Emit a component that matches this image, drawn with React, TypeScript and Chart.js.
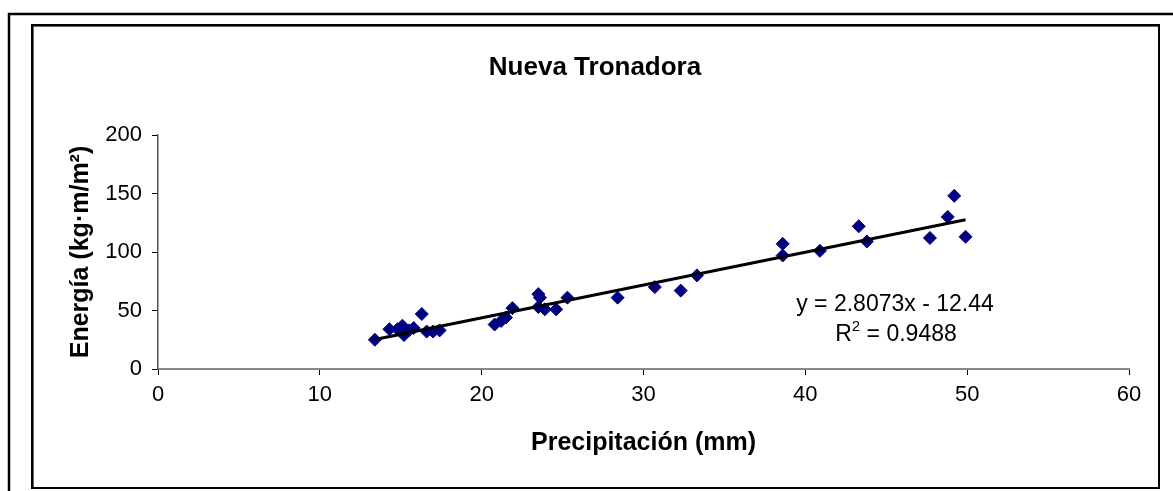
import { useEffect, useRef } from "react";
import { Chart, registerables } from "chart.js";

Chart.register(...registerables);

const chartTitle = "Nueva Tronadora";
const xTitle = "Precipitación (mm)";
const yTitle = "Energía (kg·m/m²)";

const precipitacion = [
  13.4, 14.3, 14.8, 15.1, 15.2, 15.5, 15.8, 16.3, 16.6, 17.0, 17.4,
  20.8, 21.2, 21.5, 21.9, 23.5, 23.6, 23.5, 23.9, 24.6, 25.3, 28.4,
  30.7, 32.3, 33.3, 38.6, 38.6, 40.9, 43.3, 43.8, 47.7, 48.8, 49.2, 49.9,
];
const energia = [
  25, 34, 34, 37, 29, 33, 35, 47, 32, 32, 33,
  38, 41, 44, 52, 64, 61, 53, 51, 51, 61, 61,
  70, 67, 80, 107, 97, 101, 122, 109, 112, 130, 148, 113,
];

const slope = 2.8073;
const intercept = -12.44;
const r2Text = "0.9488";

const xMin = 0, xMax = 60, xStep = 10;
const yMin = 0, yMax = 200, yStep = 50;

const FONT = "'Liberation Sans', Arial, sans-serif";

export default function App() {
  const ref = useRef<HTMLCanvasElement | null>(null);

  useEffect(() => {
    if (!ref.current) return;
    const x0 = Math.min(...precipitacion);
    const x1 = Math.max(...precipitacion);
    const trend = [
      { x: x0, y: slope * x0 + intercept },
      { x: x1, y: slope * x1 + intercept },
    ];

    const decor = {
      id: "decor",
      beforeDraw(chart: any) {
        const ctx = chart.ctx;
        ctx.save();
        ctx.fillStyle = "#fff";
        ctx.fillRect(0, 0, chart.width, chart.height);
        ctx.strokeStyle = "#000";
        ctx.lineWidth = 2.5;
        ctx.beginPath();
        ctx.moveTo(9, 500);
        ctx.lineTo(9, 14);
        ctx.lineTo(1180, 14);
        ctx.stroke();
        ctx.strokeStyle = "#666";
        ctx.lineWidth = 1;
        ctx.strokeRect(33.5, 26.5, 1126, 462);
        ctx.strokeStyle = "#000";
        ctx.lineWidth = 2;
        ctx.strokeRect(32, 25, 1127, 463);
        ctx.restore();
      },
      afterDraw(chart: any) {
        const ctx = chart.ctx;
        ctx.save();
        ctx.fillStyle = "#000";
        ctx.textAlign = "center";
        ctx.textBaseline = "middle";
        ctx.font = `bold 26px ${FONT}`;
        ctx.fillText(chartTitle, 595, 68);

        ctx.font = `23px ${FONT}`;
        const eq = `y = ${slope}x - ${Math.abs(intercept)}`;
        ctx.fillText(eq, 895, 305);

        ctx.textAlign = "left";
        const big = `23px ${FONT}`;
        const small = `15px ${FONT}`;
        ctx.font = big;
        const wR = ctx.measureText("R").width;
        const wRest = ctx.measureText(` = ${r2Text}`).width;
        ctx.font = small;
        const w2 = ctx.measureText("2").width;
        let sx = 896 - (wR + w2 + wRest) / 2;
        ctx.font = big;
        ctx.fillText("R", sx, 335);
        sx += wR;
        ctx.font = small;
        ctx.fillText("2", sx, 327);
        sx += w2;
        ctx.font = big;
        ctx.fillText(` = ${r2Text}`, sx, 335);
        ctx.restore();
      },
    };

    const chart = new Chart(ref.current, {
      type: "scatter",
      data: {
        datasets: [
          {
            label: "Energía",
            data: precipitacion.map((p, i) => ({ x: p, y: energia[i] })),
            pointStyle: "rectRot",
            pointRadius: 6.5,
            pointBackgroundColor: "#000080",
            pointBorderColor: "#000080",
            pointBorderWidth: 1,
            showLine: false,
            order: 2,
          },
          {
            label: "Tendencia",
            data: trend,
            showLine: true,
            borderColor: "#000",
            borderWidth: 3,
            pointRadius: 0,
            order: 1,
          },
        ],
      },
      plugins: [decor],
      options: {
        animation: false,
        responsive: false,
        events: [],
        layout: { padding: { left: 50, right: 44, top: 135, bottom: 22 } },
        plugins: {
          legend: { display: false },
          tooltip: { enabled: false },
          title: { display: false },
        },
        scales: {
          x: {
            type: "linear",
            min: xMin,
            max: xMax,
            afterFit: (s: any) => { s.height = 100; },
            ticks: { stepSize: xStep, color: "#000", padding: 7, font: { size: 22, family: FONT } },
            grid: { drawOnChartArea: false, drawTicks: true, tickLength: 6, color: "#000" },
            border: { display: true, color: "#888", width: 2 },
            title: {
              display: true,
              text: xTitle,
              color: "#000",
              font: { size: 25, weight: "bold", family: FONT },
              padding: { top: 0, bottom: 11 },
            },
          },
          y: {
            type: "linear",
            min: yMin,
            max: yMax,
            afterFit: (s: any) => { s.width = 108; },
            ticks: { stepSize: yStep, color: "#000", padding: 10, font: { size: 22, family: FONT } },
            grid: { drawOnChartArea: false, drawTicks: true, tickLength: 6, color: "#000" },
            border: { display: true, color: "#555", width: 1.5 },
            title: {
              display: true,
              text: yTitle,
              color: "#000",
              font: { size: 25, weight: "bold", family: FONT },
              padding: { top: 16, bottom: 0 },
            },
          },
        },
      } as any,
    });
    return () => chart.destroy();
  }, []);

  return (
    <div style={{ position: "absolute", left: 0, top: 0, width: 1173, height: 491 }}>
      <canvas ref={ref} width={1173} height={491} style={{ width: 1173, height: 491 }} />
    </div>
  );
}
